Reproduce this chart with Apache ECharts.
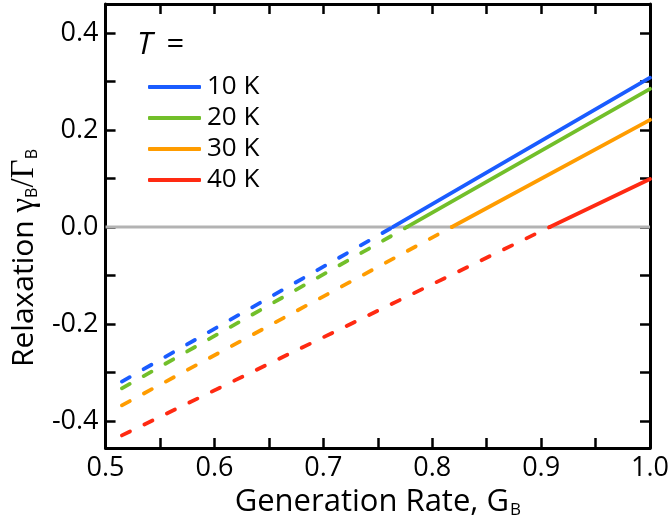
<!DOCTYPE html>
<html>
<head>
<meta charset="utf-8">
<script src="https://cdn.jsdelivr.net/npm/echarts@6/dist/echarts.min.js"></script>
<style>
  html, body { margin: 0; padding: 0; background: #fff; }
  #chart { width: 672px; height: 526px; }
</style>
</head>
<body>
<div id="chart"></div>
<script>
// Relaxation rate vs. generation rate for four temperatures.
// Dashed where the relaxation is negative, solid where it is positive.
const temps = ['10 K', '20 K', '30 K', '40 K'];
const colors = ['#1a5cff', '#72bf2a', '#ff9c00', '#ff2a12'];
const gStart = 0.515;                          // first generation rate drawn
const gEnd = 1.0;                              // last generation rate drawn
const gZero = [0.764, 0.777, 0.818, 0.908];    // zero crossing of each curve
const relaxAtStart = [-0.319, -0.333, -0.368, -0.430];
const relaxAtEnd = [0.308, 0.285, 0.221, 0.099];

const xTicks = [0.5, 0.55, 0.6, 0.65, 0.7, 0.75, 0.8, 0.85, 0.9, 0.95, 1.0];
const xLabels = [0.5, 0.6, 0.7, 0.8, 0.9, 1.0];
const yTicks = [-0.4, -0.3, -0.2, -0.1, 0.0, 0.1, 0.2, 0.3, 0.4];
const yLabels = [-0.4, -0.2, 0.0, 0.2, 0.4];

const FONT = '"Open Sans", sans-serif';
const GREEK = '"Liberation Serif", serif';

const series = [{
  name: 'zero',
  type: 'line',
  data: [[0.5, 0], [1.0, 0]],
  symbol: 'none',
  silent: true,
  z: 1,
  lineStyle: { color: '#b3b3b3', width: 3 }
}];

temps.forEach((t, i) => {
  series.push({
    name: t + ' (negative)',
    type: 'line',
    data: [[gStart, relaxAtStart[i]], [gZero[i], 0]],
    symbol: 'none',
    z: 3,
    lineStyle: { color: colors[i], width: 3.8, type: [9, 16], cap: 'round' }
  });
  series.push({
    name: t,
    type: 'line',
    data: [[gZero[i], 0], [gEnd, relaxAtEnd[i]]],
    symbol: 'none',
    z: 3,
    itemStyle: { color: colors[i] },
    lineStyle: { color: colors[i], width: 3.8, cap: 'round' }
  });
});

const frameAxis = {
  type: 'value',
  axisLine: { show: true, onZero: false, lineStyle: { color: '#000', width: 3 } },
  splitLine: { show: false }
};

const option = {
  animation: false,
  backgroundColor: '#fff',
  textStyle: { fontFamily: FONT },
  grid: { left: 105, right: 21, top: 4, bottom: 78, containLabel: false },
  title: {
    text: '{i|T} =',
    left: 132,
    top: 25,
    textStyle: {
      fontFamily: FONT, fontSize: 31, color: '#000', fontWeight: 'normal',
      rich: { i: { fontFamily: FONT, fontSize: 31, fontStyle: 'italic', color: '#000', padding: [0, 6, 0, 0] } }
    }
  },
  legend: {
    data: temps,
    orient: 'vertical',
    left: 143,
    top: 69,
    itemWidth: 53,
    itemHeight: 4,
    itemGap: 5,
    icon: 'roundRect',
    textStyle: { fontFamily: FONT, fontSize: 26, color: '#000', padding: [0, 0, 0, 1] }
  },
  xAxis: [
    Object.assign({}, frameAxis, {
      position: 'bottom',
      min: 0.5, max: 1.0,
      name: '{n|Generation Rate, G}{s|B}',
      nameLocation: 'middle',
      nameGap: 35,
      nameTextStyle: {
        color: '#000',
        rich: {
          n: { fontFamily: FONT, fontSize: 31, color: '#000' },
          s: { fontFamily: FONT, fontSize: 17, color: '#000', padding: [16, 0, 0, 1] }
        }
      },
      axisTick: { show: true, inside: true, length: 10, lineStyle: { color: '#000', width: 2.5 }, customValues: xTicks },
      axisLabel: { show: true, margin: 7, fontFamily: FONT, fontSize: 27, color: '#000',
        customValues: xLabels, formatter: v => v.toFixed(1) }
    }),
    Object.assign({}, frameAxis, {
      position: 'top',
      min: 0.5, max: 1.0,
      axisTick: { show: true, inside: true, length: 10, lineStyle: { color: '#000', width: 2.5 }, customValues: xTicks },
      axisLabel: { show: false }
    })
  ],
  yAxis: [
    Object.assign({}, frameAxis, {
      position: 'left',
      min: -0.456, max: 0.46,
      name: '{n|Relaxation }{g|γ}{s|B}{g|/Γ}{s|B}',
      nameLocation: 'middle',
      nameGap: 60,
      nameTextStyle: {
        color: '#000',
        padding: [0, 64, 0, 0],
        rich: {
          n: { fontFamily: FONT, fontSize: 30, color: '#000' },
          g: { fontFamily: GREEK, fontSize: 33, color: '#000' },
          s: { fontFamily: FONT, fontSize: 16, color: '#000', padding: [16, 0, 0, 0] }
        }
      },
      axisTick: { show: true, inside: true, length: 10, lineStyle: { color: '#000', width: 2.5 }, customValues: yTicks },
      axisLabel: { show: true, margin: 7, fontFamily: FONT, fontSize: 27, color: '#000',
        customValues: yLabels, formatter: v => v.toFixed(1) }
    }),
    Object.assign({}, frameAxis, {
      position: 'right',
      min: -0.456, max: 0.46,
      axisTick: { show: true, inside: true, length: 10, lineStyle: { color: '#000', width: 2.5 }, customValues: yTicks },
      axisLabel: { show: false }
    })
  ],
  series: series
};

const chart = echarts.init(document.getElementById('chart'), null, { renderer: 'canvas' });
chart.setOption(option);
</script>
</body>
</html>
